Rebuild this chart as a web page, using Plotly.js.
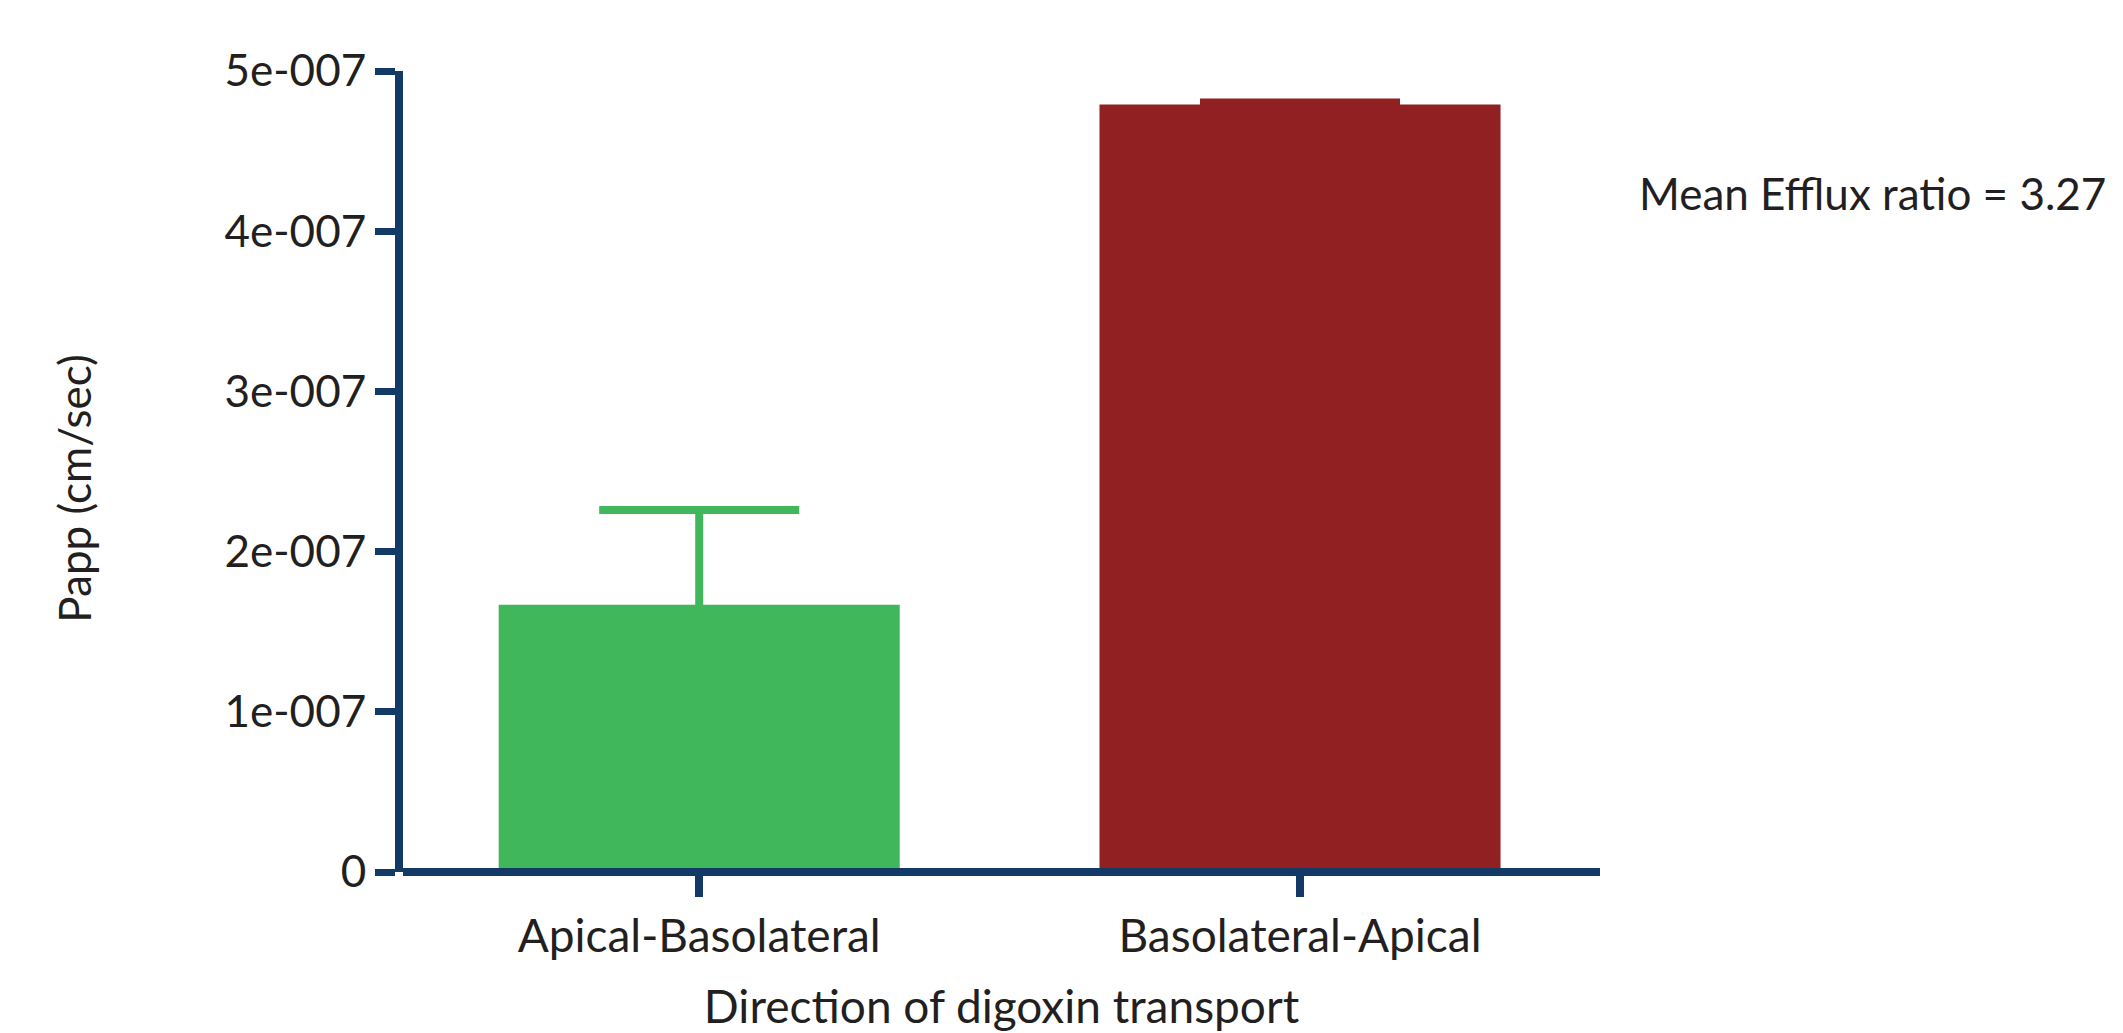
<!DOCTYPE html>
<html>
<head>
<meta charset="utf-8">
<script src="https://cdn.plot.ly/plotly-3.0.1.min.js"></script>
<style>html,body{margin:0;padding:0;background:#fff;}#chart{width:2123px;height:1033px;}</style>
</head>
<body>
<div id="chart"></div>
<script>
// ---- data ----
const categories = ["Apical-Basolateral", "Basolateral-Apical"];
const meanPapp = [1.668e-7, 4.791e-7];
const errPapp = [0.592e-7, 0.013e-7];
const barColors = ["#41B75C", "#912022"];
const yTickVals = [0, 1e-7, 2e-7, 3e-7, 4e-7, 5e-7];
const yTickText = ["0", "1e-007", "2e-007", "3e-007", "4e-007", "5e-007"];
const effluxNote = "Mean Efflux ratio = 3.27";
const xTitle = "Direction of digoxin transport";
const yTitle = "Papp (cm/sec)";

const navy = "#133A66";
const textColor = "#231F20";
const FONT = "Lato, 'Open Sans', sans-serif";

const traces = categories.map((c, i) => ({
  type: "bar",
  x: [c],
  y: [meanPapp[i]],
  marker: { color: barColors[i], line: { width: 0 } },
  error_y: { type: "data", array: [errPapp[i]], visible: true, symmetric: true,
             color: barColors[i], thickness: 8, width: 100 },
  hoverinfo: "skip",
  showlegend: false
}));

const layout = {
  width: 2123, height: 1033,
  margin: { l: 403, r: 523, t: 71, b: 160.5, pad: 0 },
  paper_bgcolor: "#fff", plot_bgcolor: "#fff",
  barmode: "overlay",
  bargap: 0.3325,
  font: { family: FONT, color: textColor, size: 44 },
  showlegend: false,
  xaxis: {
    type: "category",
    categoryorder: "array", categoryarray: categories,
    range: [-0.493, 1.4993],
    showline: false, showgrid: false, zeroline: false,
    ticks: "outside", ticklen: 24, tickwidth: 8, tickcolor: navy,
    tickfont: { family: FONT, size: 46, color: textColor },
    title: { text: xTitle, font: { family: FONT, size: 46, color: textColor }, standoff: 33 },
    automargin: false, fixedrange: true
  },
  yaxis: {
    range: [0, 5e-7],
    tickmode: "array", tickvals: yTickVals, ticktext: yTickText,
    showline: true, linecolor: navy, linewidth: 8,
    showgrid: false,
    zeroline: true, zerolinecolor: navy, zerolinewidth: 8, zerolinelayer: "above traces",
    ticks: "outside", ticklen: 20, tickwidth: 7, tickcolor: navy,
    tickfont: { family: FONT, size: 44, color: textColor },
    automargin: false, fixedrange: true
  },
  annotations: [
    {
      text: effluxNote, xref: "paper", yref: "paper",
      x: 1.0, y: 0.85, xanchor: "left", yanchor: "middle", xshift: 37, yshift: -2,
      showarrow: false, font: { family: FONT, size: 44, color: textColor }
    },
    {
      text: yTitle, xref: "paper", yref: "paper",
      x: -0.2744, y: 0.478, xanchor: "center", yanchor: "middle", textangle: -90,
      showarrow: false, font: { family: FONT, size: 44, color: textColor }
    }
  ]
};

Plotly.newPlot("chart", traces, layout, { displayModeBar: false, staticPlot: true });
</script>
</body>
</html>
